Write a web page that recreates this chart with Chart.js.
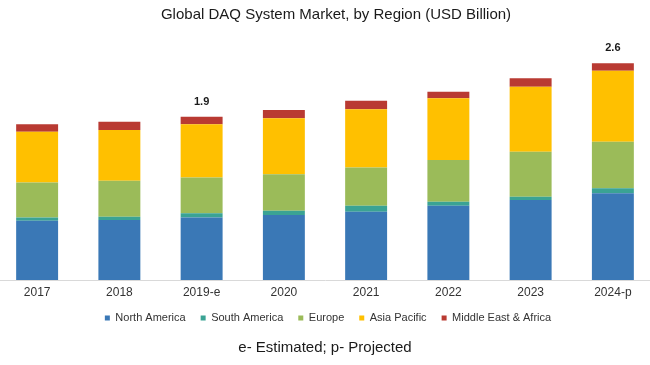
<!DOCTYPE html>
<html lang="en">
<head>
    <meta charset="UTF-8">
    <title>Global DAQ System Market, by Region</title>
    <script src="https://cdn.jsdelivr.net/npm/chart.js"></script>
    <style>
        body {
            margin: 0;
            background: #ffffff;
            overflow: hidden;
        }
        .chart-box {
            position: absolute;
            left: -4px;
            top: 0;
            width: 658px;
            height: 365px;
        }
    </style>
</head>
<body>
    <div class="chart-box">
        <canvas id="daqChart" width="658" height="365"></canvas>
    </div>

    <script>
        // values in USD Billion
        const years = ['2017', '2018', '2019-e', '2020', '2021', '2022', '2023', '2024-p'];
        const northAmerica = [0.71, 0.72, 0.75, 0.78, 0.82, 0.89, 0.96, 1.04];
        const southAmerica = [0.04, 0.04, 0.05, 0.05, 0.07, 0.05, 0.04, 0.06];
        const europe = [0.42, 0.43, 0.43, 0.44, 0.46, 0.50, 0.54, 0.56];
        const asiaPacific = [0.61, 0.61, 0.64, 0.67, 0.70, 0.74, 0.78, 0.85];
        const middleEastAfrica = [0.09, 0.10, 0.09, 0.10, 0.10, 0.08, 0.10, 0.09];
        const totalLabels = ['', '', '1.9', '', '', '', '', '2.6'];

        const font = 'Liberation Sans, Arial, sans-serif';

        // writes the market total above the chosen bars
        const totalsPlugin = {
            id: 'totals',
            afterDatasetsDraw(chart) {
                const ctx = chart.ctx;
                const lastMeta = chart.getDatasetMeta(chart.data.datasets.length - 1);
                ctx.save();
                ctx.font = 'bold 11px ' + font;
                ctx.fillStyle = '#1a1a1a';
                ctx.textAlign = 'center';
                ctx.textBaseline = 'middle';
                totalLabels.forEach((label, i) => {
                    if (!label) return;
                    const bar = lastMeta.data[i];
                    ctx.fillText(label, bar.x, bar.y - 15);
                });
                ctx.restore();
            }
        };

        // small nudges so title and legend sit where the original has them
        const nudgePlugin = {
            id: 'nudge',
            afterLayout(chart) {
                const t = chart.titleBlock;
                t.left += 11; t.right += 11;
                const lg = chart.legend;
                lg.top -= 2; lg.bottom -= 2;
                lg.left += 3; lg.right += 3;
            }
        };

        new Chart(document.getElementById('daqChart').getContext('2d'), {
            type: 'bar',
            data: {
                labels: years,
                datasets: [
                    { label: 'North America', data: northAmerica, backgroundColor: '#3a78b6' },
                    { label: 'South America', data: southAmerica, backgroundColor: '#3aa394' },
                    { label: 'Europe', data: europe, backgroundColor: '#9bbb59' },
                    { label: 'Asia Pacific', data: asiaPacific, backgroundColor: '#ffc000' },
                    { label: 'Middle East & Africa', data: middleEastAfrica, backgroundColor: '#b93a32' }
                ]
            },
            options: {
                responsive: false,
                animation: false,
                datasets: {
                    bar: { barPercentage: 1, categoryPercentage: 0.51, borderWidth: 0 }
                },
                layout: { padding: 0 },
                scales: {
                    x: {
                        stacked: true,
                        grid: { display: false, drawTicks: false },
                        border: { display: true, color: '#d9d9d9', width: 1 },
                        ticks: { color: '#333333', font: { family: font, size: 12 }, padding: 5 },
                        afterFit: (scale) => { scale.height = 19.5; }
                    },
                    y: {
                        stacked: true,
                        display: false,
                        min: 0,
                        max: 3
                    }
                },
                plugins: {
                    title: {
                        display: true,
                        text: 'Global DAQ System Market, by Region (USD Billion)',
                        color: '#1a1a1a',
                        font: { family: font, size: 15, weight: 'normal' },
                        padding: { top: 6, bottom: 6 }
                    },
                    subtitle: {
                        display: true,
                        position: 'bottom',
                        text: 'e- Estimated; p- Projected',
                        color: '#1a1a1a',
                        font: { family: font, size: 15 },
                        padding: { top: 3.5, bottom: 8 }
                    },
                    legend: {
                        position: 'bottom',
                        labels: {
                            boxWidth: 5,
                            boxHeight: 5,
                            padding: 15,
                            color: '#333333',
                            font: { family: font, size: 11 }
                        }
                    },
                    tooltip: { enabled: false }
                }
            },
            plugins: [totalsPlugin, nudgePlugin]
        });
    </script>
</body>
</html>
